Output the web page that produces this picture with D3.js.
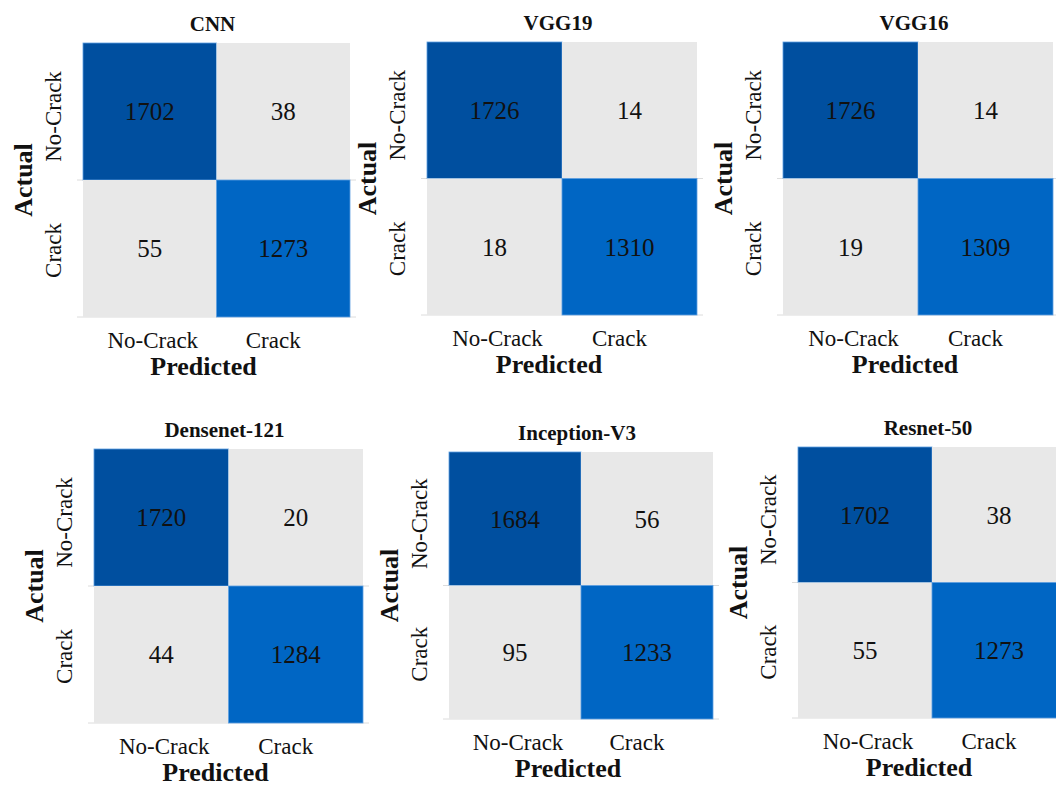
<!DOCTYPE html>
<html>
<head>
<meta charset="utf-8">
<script src="https://cdn.jsdelivr.net/npm/d3@7"></script>
<style>
  html, body { margin: 0; padding: 0; background: #ffffff; }
  svg { display: block; }
</style>
</head>
<body>
<svg id="chart" width="1056" height="786" font-family="'Liberation Serif', 'DejaVu Serif', serif"></svg>
<script>
// Class labels (rows = actual, columns = predicted)
const classes = ["No-Crack", "Crack"];

// Model names, in panel order
const models = ["CNN", "VGG19", "VGG16", "Densenet-121", "Inception-V3", "Resnet-50"];

// Confusion matrices, one per model
const cnn         = [[1702, 38], [55, 1273]];
const vgg19       = [[1726, 14], [18, 1310]];
const vgg16       = [[1726, 14], [19, 1309]];
const densenet121 = [[1720, 20], [44, 1284]];
const inceptionV3 = [[1684, 56], [95, 1233]];
const resnet50    = [[1702, 38], [55, 1273]];

const matrices = [cnn, vgg19, vgg16, densenet121, inceptionV3, resnet50];

// Panel frames (matrix area) on the page
const frames = [
  { x0: 83,  x1: 350,  y0: 43,  y1: 317 },
  { x0: 427, x1: 697,  y0: 42,  y1: 315 },
  { x0: 783, x1: 1053, y0: 42,  y1: 315 },
  { x0: 94,  x1: 363,  y0: 449, y1: 723 },
  { x0: 449, x1: 713,  y0: 452, y1: 719 },
  { x0: 798, x1: 1066, y0: 447, y1: 718 }
];

const serif = "'Liberation Serif', 'DejaVu Serif', serif";

// Cell colour by count: off-diagonal grey, strong diagonal in two blues
const color = d3.scaleThreshold()
  .domain([1000, 1500])
  .range(["#e8e8e8", "#0066c4", "#004f9f"]);

const svg = d3.select("#chart");

models.forEach((name, k) => {
  const f = frames[k];
  const m = matrices[k];
  const g = svg.append("g").attr("font-family", serif);

  const x = d3.scaleBand().domain(classes).range([f.x0, f.x1]);
  const y = d3.scaleBand().domain(classes).range([f.y0, f.y1]);

  const cells = [];
  classes.forEach((a, i) => classes.forEach((p, j) => cells.push({ a, p, v: m[i][j] })));

  // faint grid lines running a little past the matrix
  g.selectAll("line.grid")
    .data([y("Crack"), f.y1])
    .join("line")
    .attr("class", "grid")
    .attr("x1", f.x0 - 6).attr("x2", f.x1 + 6)
    .attr("y1", d => d).attr("y2", d => d)
    .attr("stroke", "#dcdcdc").attr("stroke-width", 1);

  g.selectAll("rect.cell")
    .data(cells)
    .join("rect")
    .attr("class", "cell")
    .attr("x", d => x(d.p))
    .attr("y", d => y(d.a))
    .attr("width", x.bandwidth())
    .attr("height", y.bandwidth())
    .attr("fill", d => color(d.v))
    .attr("stroke", d => d.v >= 1000 ? "#5c9ee0" : "none")
    .attr("stroke-width", 0.8);

  g.selectAll("text.val")
    .data(cells)
    .join("text")
    .attr("class", "val")
    .attr("x", d => x(d.p) + x.bandwidth() / 2)
    .attr("y", d => y(d.a) + y.bandwidth() / 2)
    .attr("dy", "0.35em")
    .attr("text-anchor", "middle")
    .attr("font-family", serif)
    .attr("font-size", 25)
    .attr("fill", "#111")
    .text(d => d.v);

  const cx = (f.x0 + f.x1) / 2;
  const cy = (f.y0 + f.y1) / 2;

  // panel title
  g.append("text")
    .attr("x", cx - 4)
    .attr("y", f.y0 - 19)
    .attr("dy", "0.35em")
    .attr("text-anchor", "middle")
    .attr("font-family", serif)
    .attr("font-size", 21)
    .attr("font-weight", "bold")
    .attr("fill", "#111")
    .text(name);

  // predicted class labels
  g.selectAll("text.xlab")
    .data(classes)
    .join("text")
    .attr("class", "xlab")
    .attr("x", (d, i) => x(d) + x.bandwidth() / 2 + (i === 0 ? 3 : -10))
    .attr("y", f.y1 + 23)
    .attr("dy", "0.35em")
    .attr("text-anchor", "middle")
    .attr("font-family", serif)
    .attr("font-size", 23)
    .attr("fill", "#111")
    .text(d => d);

  // actual class labels, rotated
  g.selectAll("text.ylab")
    .data(classes)
    .join("text")
    .attr("class", "ylab")
    .attr("transform", (d, i) => `translate(${f.x0 - 30},${y(d) + y.bandwidth() / 2 + (i === 0 ? 5 : 2)}) rotate(-90)`)
    .attr("dy", "0.35em")
    .attr("text-anchor", "middle")
    .attr("font-family", serif)
    .attr("font-size", 23)
    .attr("fill", "#111")
    .text(d => d);

  // axis titles
  g.append("text")
    .attr("x", cx - 13)
    .attr("y", f.y1 + 49)
    .attr("dy", "0.35em")
    .attr("text-anchor", "middle")
    .attr("font-family", serif)
    .attr("font-size", 26)
    .attr("font-weight", "bold")
    .attr("fill", "#111")
    .text("Predicted");

  g.append("text")
    .attr("transform", `translate(${f.x0 - 60},${cy}) rotate(-90)`)
    .attr("dy", "0.35em")
    .attr("text-anchor", "middle")
    .attr("font-family", serif)
    .attr("font-size", 26)
    .attr("font-weight", "bold")
    .attr("fill", "#111")
    .text("Actual");
});
</script>
</body>
</html>
